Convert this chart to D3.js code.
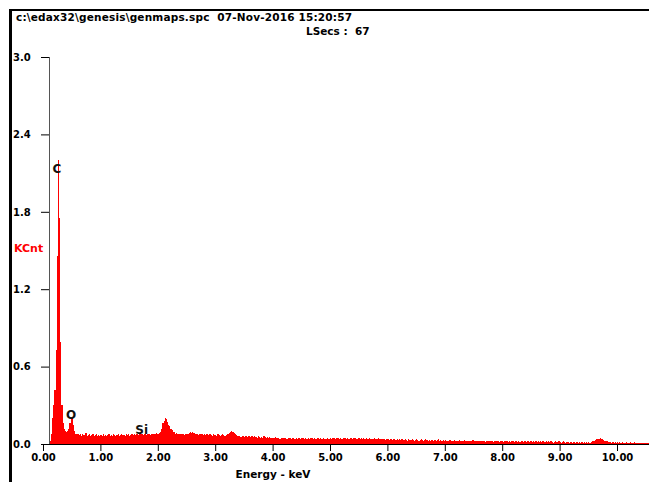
<!DOCTYPE html>
<html>
<head>
<meta charset="utf-8">
<script src="https://cdn.jsdelivr.net/npm/d3@7"></script>
<style>
	body { margin: 0; background: #fff; }
	svg { display: block; }
	text { font-family: "DejaVu Sans", sans-serif; font-weight: bold; white-space: pre; }
</style>
</head>
<body>
<main></main>
<script>
// EDS spectrum, 0.02 keV per channel, counts in KCnt
const channelKeV = 0.02;
const counts = [
	0, 0, 0, 0, 0, 0, 0.02, 0.08, 0.20, 0.30,
	0.42, 0.73, 1.46, 2.20, 1.75, 0.79, 0.30, 0.16, 0.12, 0.10,
	0.09, 0.10, 0.12, 0.16, 0.20, 0.21, 0.15, 0.10, 0.08, 0.075,
	0.08, 0.07, 0.075, 0.065, 0.08, 0.07, 0.07, 0.085, 0.065, 0.07,
	0.075, 0.065, 0.07, 0.08, 0.065, 0.07, 0.075, 0.065, 0.07, 0.06,
	0.07, 0.065, 0.075, 0.06, 0.07, 0.065, 0.07, 0.075, 0.065, 0.07,
	0.065, 0.075, 0.07, 0.06, 0.07, 0.08, 0.065, 0.07, 0.075, 0.07,
	0.07, 0.065, 0.08, 0.07, 0.075, 0.065, 0.07, 0.08, 0.07, 0.075,
	0.07, 0.075, 0.08, 0.07, 0.085, 0.08, 0.075, 0.07, 0.08, 0.075,
	0.07, 0.075, 0.08, 0.07, 0.075, 0.08, 0.075, 0.08, 0.085, 0.08,
	0.08, 0.085, 0.09, 0.12, 0.16, 0.18, 0.20, 0.19, 0.17, 0.15,
	0.14, 0.12, 0.11, 0.095, 0.09, 0.08, 0.085, 0.075, 0.08, 0.075,
	0.08, 0.075, 0.08, 0.07, 0.075, 0.08, 0.075, 0.085, 0.09, 0.085,
	0.09, 0.085, 0.08, 0.075, 0.08, 0.07, 0.075, 0.08, 0.075, 0.07,
	0.075, 0.07, 0.08, 0.075, 0.07, 0.075, 0.07, 0.065, 0.075, 0.07,
	0.07, 0.065, 0.075, 0.07, 0.065, 0.07, 0.075, 0.07, 0.065, 0.07,
	0.075, 0.08, 0.085, 0.095, 0.10, 0.095, 0.085, 0.075, 0.07, 0.065,
	0.065, 0.06, 0.055, 0.065, 0.06, 0.055, 0.06, 0.065, 0.055, 0.06,
	0.055, 0.06, 0.065, 0.055, 0.06, 0.055, 0.05, 0.06, 0.055, 0.05,
	0.055, 0.05, 0.06, 0.055, 0.05, 0.055, 0.045, 0.055, 0.05, 0.045,
	0.05, 0.045, 0.055, 0.05, 0.045, 0.05, 0.04, 0.05, 0.045, 0.05,
	0.045, 0.05, 0.04, 0.045, 0.05, 0.045, 0.04, 0.045, 0.05, 0.04,
	0.045, 0.04, 0.05, 0.045, 0.04, 0.045, 0.05, 0.04, 0.045, 0.04,
	0.04, 0.045, 0.04, 0.05, 0.045, 0.04, 0.045, 0.04, 0.035, 0.045,
	0.04, 0.045, 0.035, 0.04, 0.045, 0.04, 0.035, 0.045, 0.04, 0.04,
	0.045, 0.04, 0.05, 0.045, 0.04, 0.045, 0.05, 0.045, 0.04, 0.045,
	0.04, 0.045, 0.05, 0.045, 0.04, 0.045, 0.04, 0.05, 0.045, 0.04,
	0.045, 0.05, 0.045, 0.04, 0.05, 0.045, 0.04, 0.045, 0.04, 0.045,
	0.04, 0.045, 0.04, 0.035, 0.045, 0.04, 0.035, 0.04, 0.045, 0.04,
	0.035, 0.04, 0.045, 0.035, 0.04, 0.035, 0.04, 0.035, 0.03, 0.04,
	0.035, 0.03, 0.04, 0.035, 0.03, 0.035, 0.04, 0.03, 0.035, 0.03,
	0.035, 0.03, 0.035, 0.04, 0.03, 0.035, 0.03, 0.025, 0.035, 0.03,
	0.03, 0.035, 0.03, 0.025, 0.03, 0.035, 0.03, 0.025, 0.03, 0.035,
	0.03, 0.025, 0.03, 0.035, 0.03, 0.025, 0.03, 0.025, 0.03, 0.03,
	0.025, 0.03, 0.025, 0.03, 0.035, 0.025, 0.03, 0.025, 0.03, 0.025,
	0.03, 0.025, 0.02, 0.025, 0.03, 0.025, 0.02, 0.025, 0.03, 0.025,
	0.02, 0.025, 0.03, 0.02, 0.025, 0.02, 0.025, 0.03, 0.02, 0.025,
	0.025, 0.02, 0.025, 0.02, 0.03, 0.025, 0.02, 0.025, 0.02, 0.025,
	0.02, 0.025, 0.02, 0.025, 0.02, 0.015, 0.025, 0.02, 0.025, 0.02,
	0.025, 0.02, 0.015, 0.02, 0.025, 0.02, 0.02, 0.015, 0.02, 0.025,
	0.02, 0.015, 0.02, 0.025, 0.02, 0.015, 0.02, 0.015, 0.02, 0.02,
	0.015, 0.02, 0.025, 0.015, 0.02, 0.015, 0.02, 0.02, 0.015, 0.02,
	0.02, 0.015, 0.02, 0.015, 0.02, 0.025, 0.015, 0.02, 0.015, 0.02,
	0.015, 0.02, 0.015, 0.02, 0.015, 0.02, 0.015, 0.015, 0.02, 0.015,
	0.02, 0.015, 0.02, 0.015, 0.01, 0.015, 0.02, 0.015, 0.015, 0.02,
	0.015, 0.01, 0.015, 0.02, 0.015, 0.01, 0.015, 0.015, 0.01, 0.015,
	0.015, 0.01, 0.015, 0.01, 0.015, 0.015, 0.01, 0.015, 0.01, 0.015,
	0.01, 0.015, 0.01, 0.015, 0.01, 0.015, 0.01, 0.015, 0.02, 0.02,
	0.025, 0.03, 0.035, 0.04, 0.04, 0.045, 0.04, 0.035, 0.03, 0.025,
	0.02, 0.02, 0.015, 0.012, 0.012, 0.01, 0.012, 0.01, 0.012, 0.01,
	0.012, 0.01, 0.012, 0.01, 0.012, 0.01, 0.01, 0.01, 0.012, 0.01,
	0.01, 0.012, 0.01, 0.01, 0.01, 0.012, 0.01, 0.01, 0.01, 0.01,
	0.01, 0.01, 0.01, 0.01, 0.01, 0.01, 0.01, 0.01
];

const xTicks = [0, 1, 2, 3, 4, 5, 6, 7, 8, 9, 10];
const yTicks = [0, 0.6, 1.2, 1.8, 2.4, 3.0];

// element labels: [name, keV, KCnt at label baseline]
const peakLabels = [
	["C", 0.244, 2.10],
	["O", 0.49, 0.195],
	["Si", 1.72, 0.078]
];

const header = "c:\\edax32\\genesis\\genmaps.spc  07-Nov-2016 15:20:57";
const liveSecs = "LSecs :  67";

const w = 649, h = 482;

let x = d3.scaleLinear().domain([0, 10]).range([43, 617]);
let y = d3.scaleLinear().domain([0, 3]).range([444, 57]);

let svg = d3.select("main")
	.append("svg")
	.attr("width", w)
	.attr("height", h);

svg.append("rect").attr("width", w).attr("height", h).attr("fill", "#fff");

// frame (top + left rule)
svg.append("rect").attr("x", 9).attr("y", 9).attr("width", w - 9).attr("height", 2).attr("fill", "#000");
svg.append("rect").attr("x", 9).attr("y", 9).attr("width", 3).attr("height", h - 9).attr("fill", "#000");

svg.append("text")
	.attr("x", 16).attr("y", 21)
	.attr("font-size", 10.5)
	.attr("textLength", 336)
	.text(header);

svg.append("text")
	.attr("x", 306).attr("y", 35)
	.attr("font-size", 10.5)
	.text(liveSecs);

// spectrum
let area = d3.area()
	.curve(d3.curveStepAfter)
	.x((d, i) => x(i * channelKeV))
	.y0(y(0))
	.y1(d => y(d));

svg.append("path")
	.datum(counts.concat([counts[counts.length - 1]]))
	.attr("d", area)
	.attr("fill", "#ff0000")
	.attr("shape-rendering", "crispEdges");

// axes
let xAxis = g => g
	.attr("transform", `translate(0,${y(0)})`)
	.call(d3.axisBottom(x).tickValues(xTicks).tickFormat(d3.format(".2f")).tickSize(7).tickPadding(3))
	.call(g => g.select(".domain").remove())
	.call(g => g.selectAll("text").attr("font-size", 10).attr("fill", "#000"));

let yAxis = g => g
	.attr("transform", `translate(49,0)`)
	.call(d3.axisLeft(y).tickValues(yTicks).tickFormat(d3.format(".1f")).tickSize(8))
	.call(g => g.select(".domain").remove())
	.call(g => g.selectAll("text")
		.attr("x", -36)
		.attr("text-anchor", "start")
		.attr("font-size", 10)
		.attr("fill", "#000"));

svg.append("line")
	.attr("x1", x(0)).attr("x2", w)
	.attr("y1", y(0) + 0.5).attr("y2", y(0) + 0.5)
	.attr("stroke", "#000");

svg.append("line")
	.attr("x1", 49.5).attr("x2", 49.5)
	.attr("y1", y(3)).attr("y2", y(0))
	.attr("stroke", "#555");

svg.append("g").call(xAxis);
svg.append("g").call(yAxis);

svg.append("text")
	.attr("x", 273).attr("y", 478)
	.attr("text-anchor", "middle")
	.attr("font-size", 10.5)
	.text("Energy - keV");

svg.append("text")
	.attr("x", 14).attr("y", 252)
	.attr("font-size", 11)
	.attr("fill", "#ff0000")
	.text("KCnt");

svg.append("g")
	.selectAll("text")
	.data(peakLabels)
	.join("text")
	.attr("x", d => x(d[1]))
	.attr("y", d => y(d[2]))
	.attr("text-anchor", "middle")
	.attr("font-size", 12)
	.attr("fill", "#111")
	.text(d => d[0]);
</script>
</body>
</html>
